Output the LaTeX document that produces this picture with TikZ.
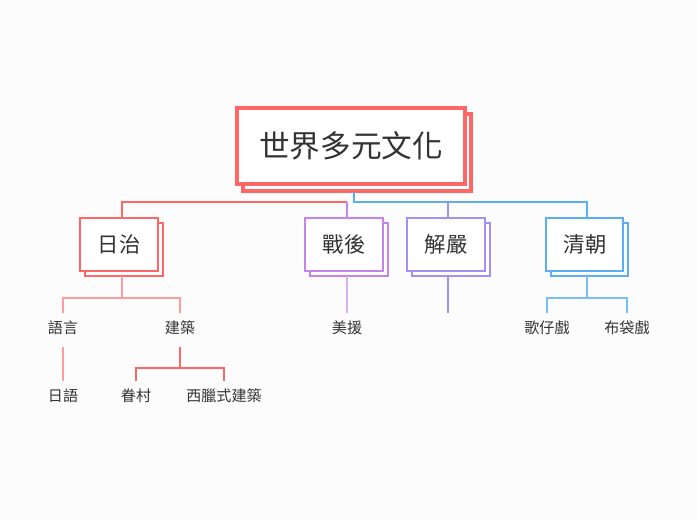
\documentclass[tikz,border=0pt]{standalone}
\usepackage{fontspec}
\setmainfont{Noto Sans CJK TC}
\definecolor{cred}{HTML}{FF6666}
\definecolor{cpur}{HTML}{C583EC}
\definecolor{clav}{HTML}{A38FF7}
\definecolor{cblu}{HTML}{5AADF7}
\definecolor{ctxt}{HTML}{333333}
\definecolor{cbg}{HTML}{FCFCFC}
\begin{document}
\begin{tikzpicture}[x=0.75pt,y=-0.75pt,
  rootfont/.style={font=\fontsize{23}{27}\selectfont,text=ctxt},
  topfont/.style={font=\fontsize{16}{19}\selectfont,text=ctxt},
  leaf/.style={font=\fontsize{11.3}{13}\selectfont,text=ctxt,inner sep=1pt},
  conn/.style={line width=1.5pt},
  thin/.style={line width=1.1pt}]
\fill[cbg] (0,0) rectangle (697,520);
\useasboundingbox (0,0) rectangle (697,520);
% root
\draw[cred,line width=2.4pt,fill=white] (243,114) rectangle (471,191);
\draw[cred,line width=2.4pt,fill=white] (237,108) rectangle (465,184);
\node[rootfont] (root) at (351,146) {世界多元文化};
% level-1 boxes
\foreach \l/\r/\c in {80/158/cred,305/383/cpur,407/485/clav,546/623/cblu}{
  \draw[\c,line width=1.6pt,fill=white] (\l+5,223) rectangle (\r+5,276);
  \draw[\c,line width=1.6pt,fill=white] (\l,218) rectangle (\r,271);
}
\node[topfont] (a) at (119,244) {日治};
\node[topfont] (b) at (344,244) {戰後};
\node[topfont] (c) at (446,244) {解嚴};
\node[topfont] (d) at (585,244) {清朝};
\coordinate (atop) at (122,218);  \coordinate (abot) at (122,276);
\coordinate (btop) at (347,218);  \coordinate (bbot) at (347,276);
\coordinate (ctop) at (448,218);  \coordinate (cbot) at (448,276);
\coordinate (dtop) at (587,218);  \coordinate (dbot) at (587,276);
% root connectors
\coordinate (rootbot) at (354,192);
\coordinate (bus) at (354,202);
\coordinate (busl) at (347,202);
\draw[cblu,conn] (rootbot) -- (bus) -| (dtop);
\draw[cred,conn] (atop) |- (busl);
\draw[cpur,conn] (btop) -- (busl);
\draw[clav,conn] (ctop) -- ++(0,-16);
% level-2
\node[leaf] (a1) at (63,328) {語言};
\node[leaf] (a2) at (180,328) {建築};
\node[leaf] (b1) at (347,328) {美援};
\node[leaf] (d1) at (547,328) {歌仔戲};
\node[leaf] (d2) at (627,328) {布袋戲};
\coordinate (a1in) at (63,313);  \coordinate (a2in) at (180,313);
\coordinate (b1in) at (347,313); \coordinate (cend) at (448,313);
\coordinate (d1in) at (547,313); \coordinate (d2in) at (627,313);
\coordinate (ajoin) at (122,298);
\coordinate (djoin) at (587,298);
\draw[cred!65,thin] (abot) -- (ajoin) -| (a1in);
\draw[cred!65,thin] (ajoin) -| (a2in);
\draw[cpur!65,thin] (bbot) -- (b1in);
\draw[clav,thin] (cbot) -- (cend);
\draw[cblu!80,thin] (dbot) -- (djoin) -| (d1in);
\draw[cblu!80,thin] (djoin) -| (d2in);
% level-3
\node[leaf] (a11) at (63,396) {日語};
\node[leaf] (a21) at (136,396) {眷村};
\node[leaf] (a22) at (224,396) {西臘式建築};
\coordinate (a1out) at (63,347);  \coordinate (a11in) at (63,381);
\coordinate (a2out) at (180,347);
\coordinate (a21in) at (136,381); \coordinate (a22in) at (224,381);
\coordinate (a2join) at (180,368);
\draw[cred!65,thin] (a1out) -- (a11in);
\draw[cred,thin] (a2out) -- (a2join) -| (a21in);
\draw[cred,thin] (a2join) -| (a22in);
\end{tikzpicture}
\end{document}
